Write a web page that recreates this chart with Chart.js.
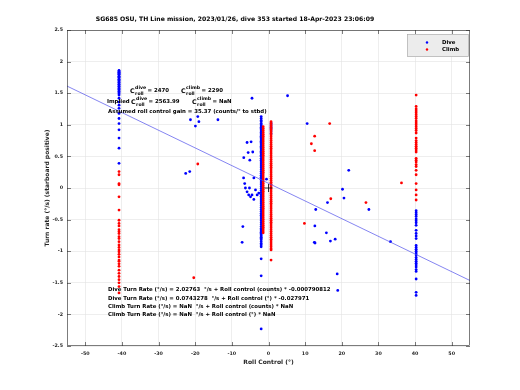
<!DOCTYPE html>
<html><head><meta charset="utf-8">
<script src="https://cdn.jsdelivr.net/npm/chart.js@4"></script>
<style>html,body{margin:0;padding:0;background:#fff}</style>
</head><body>
<canvas id="c" width="520" height="390" style="width:520px;height:390px;display:block"></canvas>
<script>
// ---------- data ----------
const titleText = 'SG685 OSU, TH Line mission, 2023/01/26, dive 353 started 18-Apr-2023 23:06:09';
const xTicks = [-50,-40,-30,-20,-10,0,10,20,30,40,50];
const yTicks = [-2.5,-2,-1.5,-1,-0.5,0,0.5,1,1.5,2,2.5];
const xRange = [-55, 55];
const yRange = [-2.5, 2.5];

// column positions (roll control, deg)
const colLeftX = -40.8;
const diveMidX = -2.0;
const climbMidX = -1.45;
const colMid2X = 0.7;
const colRightX = 40.3;

// Dive (blue) columns
const diveLeftY = [1.86,1.85,1.84,1.83,1.82,1.81,1.80,1.79,1.77,1.76,1.75,1.74,1.72,1.71,1.70,1.68,1.67,1.66,1.64,1.63,1.61,1.60,1.58,1.56,1.55,1.53,1.51,1.49,1.47,1.42,1.36,1.31,1.26,1.18,1.10,1.02,0.92,0.79,0.63,0.39];
const diveMidY = [1.13,1.10,1.07,1.05,1.02,1.00,0.98,0.96,0.94,0.92,0.90,0.88,0.86,0.84,0.82,0.80,0.78,0.76,0.74,0.72,0.70,0.68,0.66,0.64,0.62,0.60,0.58,0.56,0.54,0.52,0.50,0.47,0.44,0.41,0.38,0.35,0.32,0.29,0.26,0.23,0.20,0.17,0.14,0.11,0.08,0.05,0.02,-0.01,-0.04,-0.07,-0.10,-0.13,-0.16,-0.19,-0.22,-0.25,-0.28,-0.31,-0.34,-0.37,-0.40,-0.43,-0.46,-0.49,-0.52,-0.55,-0.58,-0.61,-0.64,-0.66,-0.68,-0.70,-0.72,-0.74,-0.76,-0.78,-0.80,-0.82,-0.85,-0.88,-0.90,-0.93,-1.12,-1.39,-2.23];
const diveMid2Y = [1.03,1.00,0.97,0.94,0.90,0.86];
const diveRightY = [-0.36,-0.39,-0.42,-0.45,-0.49,-0.52,-0.55,-0.59,-0.67,-0.72,-0.76,-0.80,-0.91,-0.94,-0.97,-1.00,-1.03,-1.06,-1.10,-1.13,-1.16,-1.19,-1.22,-1.25,-1.29,-1.32,-1.44,-1.65,-1.70];
// Dive scattered points [x, y]
const diveScatter = [[-4.5,1.42],[5.2,1.46],[-5.85,0.72],[-4.75,0.73],[-5.55,0.56],[-4.3,0.57],[-6.75,0.48],[-5.1,0.44],[-6.8,0.16],[-4.0,0.16],[-6.5,0.07],[-6.3,0.0],[-5.2,0.0],[-5.85,-0.06],[-5.4,-0.11],[-4.9,-0.14],[-4.5,-0.11],[-4.0,-0.18],[-3.1,-0.11],[-2.65,-0.08],[-3.55,-0.03],[-7.0,-0.61],[-7.2,-0.86],[-0.55,0.14],[10.55,1.02],[21.9,0.28],[20.2,-0.02],[20.6,-0.16],[16.1,-0.23],[27.4,-0.34],[12.9,-0.34],[12.65,-0.6],[15.8,-0.71],[12.5,-0.86],[12.7,-0.87],[16.9,-0.84],[18.2,-0.81],[33.3,-0.85],[18.75,-1.36],[18.9,-1.62],[-21.3,1.08],[-19.3,1.13],[-19.0,1.05],[-19.95,0.98],[-13.8,1.08],[-22.6,0.23],[-21.5,0.26]];

// Climb (red) columns
const climbLeftY = [0.26,0.21,0.07,0.05,-0.14,-0.35,-0.51,-0.56,-0.60,-0.66,-0.69,-0.72,-0.77,-0.80,-0.85,-0.90,-0.94,-0.98,-1.01,-1.05,-1.09,-1.14,-1.16,-1.20,-1.24,-1.30,-1.35,-1.40,-1.45,-1.50,-1.56,-1.66];
const climbMidY = [0.97,0.94,0.91,0.88,0.85,0.82,0.79,0.76,0.73,0.70,0.67,0.64,0.61,0.58,0.55,0.52,0.49,0.46,0.43,0.40,0.37,0.34,0.31,0.28,0.25,0.22,0.19,0.16,0.13,0.10,0.07,0.04,0.01,-0.02,-0.05,-0.08,-0.11,-0.14,-0.17,-0.20,-0.23,-0.26,-0.29,-0.32,-0.35,-0.38,-0.41,-0.44,-0.47,-0.50,-0.53,-0.56,-0.59,-0.62,-0.65,-0.68,-0.71];
const climbMid2Y = [1.05,1.02,0.99,0.96,0.93,0.90,0.87,0.84,0.81,0.78,0.75,0.72,0.69,0.66,0.63,0.60,0.57,0.54,0.51,0.48,0.45,0.42,0.39,0.36,0.33,0.30,0.27,0.24,0.21,0.18,0.15,0.12,0.09,0.06,0.03,0.00,-0.03,-0.06,-0.09,-0.12,-0.15,-0.18,-0.21,-0.24,-0.27,-0.30,-0.33,-0.36,-0.39,-0.42,-0.45,-0.48,-0.51,-0.54,-0.57,-0.60,-0.63,-0.66,-0.69,-0.72,-0.75,-0.78,-0.81,-0.84,-0.87,-0.90,-0.93,-0.96,-0.98,-1.14];
const climbRightY = [1.47,1.29,1.25,1.22,1.19,1.16,1.13,1.10,1.06,1.03,1.00,0.97,0.94,0.91,0.87,0.79,0.75,0.72,0.69,0.66,0.63,0.60,0.57,0.47,0.44,0.41,0.37,0.34,0.28,0.21,0.07,-0.03,-0.11,-0.19];
const climbScatter = [[16.7,1.02],[12.6,0.82],[11.7,0.70],[12.6,0.59],[17.0,-0.17],[26.6,-0.23],[36.3,0.08],[9.8,-0.56],[-19.3,0.38],[-20.4,-1.42]];

// Fit: Dive Turn Rate = intercept + slope * roll(deg)
const fitIntercept = 0.0743278;
const fitSlope = -0.027971;

// ---------- build ----------
const col = (x, ys) => ys.map(y => ({x, y}));
const pairs = arr => arr.map(p => ({x: p[0], y: p[1]}));
const diveData = [].concat(col(colLeftX, diveLeftY), col(diveMidX, diveMidY), col(colMid2X, diveMid2Y), col(colRightX, diveRightY), pairs(diveScatter));
const climbData = [].concat(col(colLeftX, climbLeftY), col(climbMidX, climbMidY), col(colMid2X, climbMid2Y), col(colRightX, climbRightY), pairs(climbScatter));
const fitData = xRange.map(x => ({x, y: fitIntercept + fitSlope * x}));

const FONT = '"DejaVu Sans", Verdana, sans-serif';
const BLUE = '#0000ff', RED = '#ff0000';

const L = 67, R = 470, T = 30, B = 346;

function drawCsym(ctx, x, y, sup, sub) {
  ctx.font = 'bold 6.3px ' + FONT;
  ctx.fillText('C', x, y);
  const w = ctx.measureText('C').width + 0.5;
  ctx.font = 'bold 4.6px ' + FONT;
  ctx.fillText(sup, x + w, y - 3.2);
  ctx.fillText(sub, x + w, y + 2.6);
  return x + w + Math.max(ctx.measureText(sup).width, ctx.measureText(sub).width) + 1.5;
}

const overlay = {
  id: 'overlay',
  afterDraw(chart) {
    const {ctx, chartArea: a, scales} = chart;
    ctx.save();
    // frame
    ctx.strokeStyle = '#262626';
    ctx.lineWidth = 0.6;
    ctx.strokeRect(a.left + 0.5, a.top + 0.5, a.right - a.left - 1, a.bottom - a.top - 1);
    // inward ticks
    ctx.beginPath();
    const tl = 4;
    xTicks.forEach(v => {
      const px = Math.round(scales.x.getPixelForValue(v)) + 0.5;
      ctx.moveTo(px, a.bottom); ctx.lineTo(px, a.bottom - tl);
      ctx.moveTo(px, a.top); ctx.lineTo(px, a.top + tl);
    });
    yTicks.forEach(v => {
      const py = Math.round(scales.y.getPixelForValue(v)) + 0.5;
      ctx.moveTo(a.left, py); ctx.lineTo(a.left + tl, py);
      ctx.moveTo(a.right, py); ctx.lineTo(a.right - tl, py);
    });
    ctx.stroke();

    // legend
    ctx.fillStyle = '#ececec';
    ctx.fillRect(407, 34, 62, 23);
    ctx.strokeStyle = '#a6a6a6';
    ctx.lineWidth = 0.6;
    ctx.strokeRect(407.5, 34.5, 61, 22);
    ctx.fillStyle = BLUE;
    ctx.beginPath(); ctx.arc(427, 42.5, 1.2, 0, Math.PI * 2); ctx.fill();
    ctx.fillStyle = RED;
    ctx.beginPath(); ctx.arc(427, 49.5, 1.2, 0, Math.PI * 2); ctx.fill();
    ctx.fillStyle = '#000';
    ctx.textBaseline = 'middle';
    ctx.textAlign = 'left';
    ctx.font = 'bold 5.4px ' + FONT;
    ctx.fillText('Dive', 442, 42.5);
    ctx.fillText('Climb', 442, 49.5);

    // annotations
    const AF = 'bold 5.4px ' + FONT;
    ctx.fillStyle = '#000';
    let x = drawCsym(ctx, 130, 91, 'dive', 'roll');
    ctx.font = AF;
    ctx.fillText('= 2470', x, 91);
    x = drawCsym(ctx, 181, 91, 'climb', 'roll');
    ctx.font = AF;
    ctx.fillText('= 2290', x, 91);

    ctx.font = AF;
    ctx.fillText('Implied', 107, 102);
    x = drawCsym(ctx, 131, 102, 'dive', 'roll');
    ctx.font = AF;
    ctx.fillText('= 2563.99', x, 102);
    x = drawCsym(ctx, 192, 102, 'climb', 'roll');
    ctx.font = AF;
    ctx.fillText('= NaN', x, 102);

    ctx.fillText('Assumed roll control gain = 35.37 (counts/\u00b0 to stbd)', 108, 112);

    const lines = [
      'Dive Turn Rate (\u00b0/s) = 2.02763  \u00b0/s + Roll control (counts) * -0.000790812',
      'Dive Turn Rate (\u00b0/s) = 0.0743278  \u00b0/s + Roll control (\u00b0) * -0.027971',
      'Climb Turn Rate (\u00b0/s) = NaN  \u00b0/s + Roll control (counts) * NaN',
      'Climb Turn Rate (\u00b0/s) = NaN  \u00b0/s + Roll control (\u00b0) * NaN'
    ];
    lines.forEach((t, i) => ctx.fillText(t, 108, 290 + i * 8.3));
    ctx.restore();
  }
};

new Chart(document.getElementById('c'), {
  type: 'scatter',
  data: {
    datasets: [
      {label: 'Climb', data: climbData, backgroundColor: RED, borderWidth: 0, pointRadius: 1.4, order: 1},
      {label: 'Dive', data: diveData, backgroundColor: BLUE, borderWidth: 0, pointRadius: 1.4, order: 2},
      {type: 'line', label: 'fit', data: fitData, borderColor: 'rgb(80,80,235)', borderWidth: 0.7, pointRadius: 0, fill: false, order: 0},
      {label: 'origin', data: [{x: 0, y: 0}], pointStyle: 'cross', pointRadius: 4, borderColor: '#000', borderWidth: 0.8, backgroundColor: '#000', order: 0}
    ]
  },
  options: {
    responsive: false,
    animation: false,
    devicePixelRatio: 1,
    layout: {padding: {left: 0, right: 520 - R, top: 0, bottom: 0}},
    plugins: {
      legend: {display: false},
      tooltip: {enabled: false},
      title: {
        display: true, text: titleText, color: '#000',
        font: {family: FONT, size: 6.1, weight: 'bold', lineHeight: 1.2},
        padding: {top: 16, bottom: 30 - 16 - 7.32}
      }
    },
    scales: {
      x: {
        type: 'linear', min: xRange[0], max: xRange[1],
        afterFit(s) { s.height = 390 - B; },
        afterBuildTicks(s) { s.ticks = xTicks.map(v => ({value: v})); },
        grid: {color: '#e3e3e3', lineWidth: 0.6, drawTicks: false},
        border: {display: false},
        ticks: {padding: 5, color: '#262626', font: {family: FONT, size: 4.8, weight: 'bold'}, maxRotation: 0, autoSkip: false, callback: v => String(v)},
        title: {display: true, text: 'Roll Control (\u00b0)', color: '#262626', font: {family: FONT, size: 6, weight: 'bold', lineHeight: 1.2}, padding: {top: 0, bottom: 23.5}}
      },
      y: {
        type: 'linear', min: yRange[0], max: yRange[1],
        afterFit(s) { s.width = L; },
        afterBuildTicks(s) { s.ticks = yTicks.map(v => ({value: v})); },
        grid: {color: '#e3e3e3', lineWidth: 0.6, drawTicks: false},
        border: {display: false},
        ticks: {padding: 4, color: '#262626', font: {family: FONT, size: 4.8, weight: 'bold'}, autoSkip: false, callback: v => String(v)},
        title: {display: true, text: 'Turn rate (\u00b0/s) (starboard positive)', color: '#262626', font: {family: FONT, size: 6, weight: 'bold', lineHeight: 1.2}, padding: {top: 43.5, bottom: 0}}
      }
    }
  },
  plugins: [overlay]
});
</script>
</body></html>
